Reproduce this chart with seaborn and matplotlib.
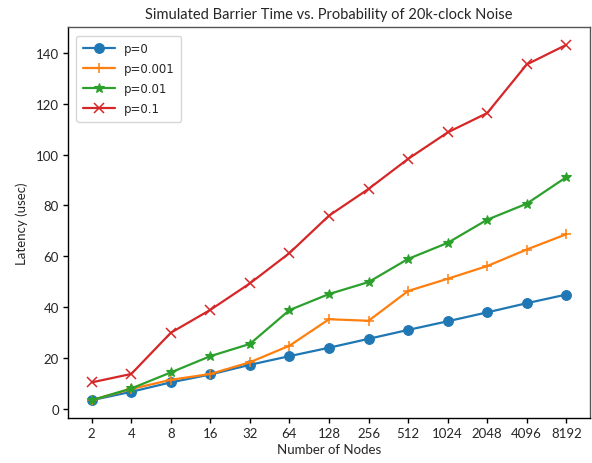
import matplotlib
matplotlib.use("Agg")
import matplotlib.pyplot as plt
import seaborn as sns
import pandas as pd

nodes = [2, 4, 8, 16, 32, 64, 128, 256, 512, 1024, 2048, 4096, 8192]
p0 = [3.5, 6.8, 10.5, 13.6, 17.4, 20.8, 24.1, 27.6, 31.1, 34.5, 38.0, 41.6, 45.0]
p0001 = [3.5, 7.9, 11.5, 13.8, 18.4, 24.9, 35.3, 34.7, 46.4, 51.2, 56.2, 62.7, 68.7]
p001 = [3.5, 8.1, 14.4, 20.8, 25.6, 38.9, 45.2, 49.9, 59.0, 65.3, 74.4, 80.7, 91.1]
p01 = [10.5, 13.8, 30.0, 39.0, 49.4, 61.3, 76.0, 86.5, 98.3, 108.7, 116.3, 135.4, 143.1]
series_names = ["p=0", "p=0.001", "p=0.01", "p=0.1"]
series_vals = [p0, p0001, p001, p01]

rows = []
for name, vals in zip(series_names, series_vals):
    for n, v in zip(nodes, vals):
        rows.append({"nodes": n, "latency": v, "series": name})
df = pd.DataFrame(rows)

sns.set_style("ticks")
plt.rcParams["font.family"] = ["Lato", "DejaVu Sans"]

fig = plt.figure(figsize=(5.92, 4.64), dpi=100)
ax = fig.add_axes([68/592, 45/464, (590-68)/592, (419-28.3)/464])

colors = ["#1f77b4", "#ff7f0e", "#2ca02c", "#d62728"]
markers = ["o", "+", "*", "x"]
sizes = [7, 7.5, 7.5, 7.5]
for name, c, m, s in zip(series_names, colors, markers, sizes):
    sub = df[df["series"] == name]
    sns.lineplot(data=sub, x="nodes", y="latency", color=c, marker=m,
                 markersize=s, markeredgewidth=1.1 if m in "+x" else 0.8,
                 markeredgecolor=c, linewidth=1.6, label=name, ax=ax)

ax.set_xscale("log", base=2)
ax.set_xticks(nodes)
ax.set_xticklabels([str(n) for n in nodes])
ax.minorticks_off()
ax.set_xlim(2 ** 0.4, 2 ** 13.6)
ax.set_ylim(-3.5, 150)
ax.set_yticks([0, 20, 40, 60, 80, 100, 120, 140])
ax.tick_params(labelsize=9.5, length=3.5, width=1, color="black", pad=3)

for s in ["left", "bottom"]:
    ax.spines[s].set_color("black")
    ax.spines[s].set_linewidth(1.0)
for s in ["top", "right"]:
    ax.spines[s].set_color("#555555")
    ax.spines[s].set_linewidth(1.0)

ax.set_xlabel("Number of Nodes", fontsize=9.5, labelpad=3)
ax.set_ylabel("Latency (usec)", fontsize=9.5, labelpad=6)
ax.set_title("Simulated Barrier Time vs. Probability of 20k-clock Noise", fontsize=10.5, pad=7)

leg = ax.legend(loc="upper left", prop={"family": "DejaVu Sans", "size": 8.5},
                handlelength=2.7, labelspacing=0.6, borderpad=0.55,
                borderaxespad=0.7, frameon=True, fancybox=True)
leg.get_frame().set_edgecolor("#cccccc")

fig.savefig("out.png", dpi=100)
